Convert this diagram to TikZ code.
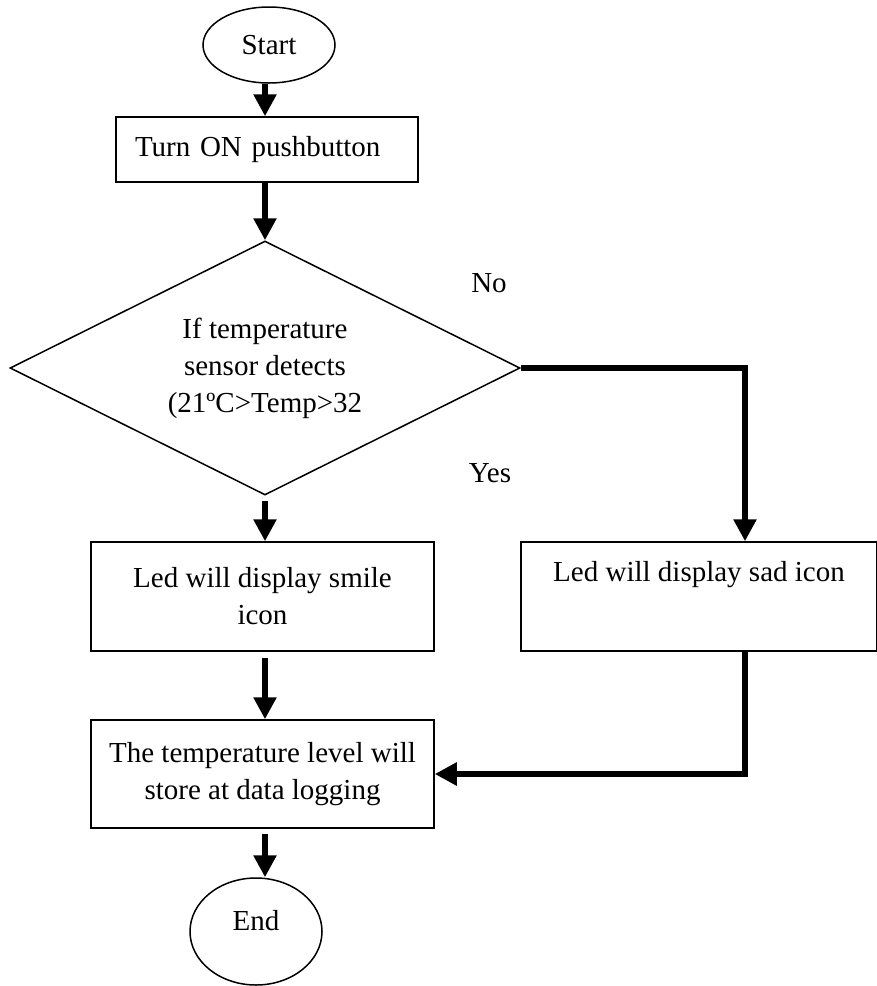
\documentclass[tikz,border=0pt]{standalone}
\usepackage{fontspec}
\setmainfont{Liberation Serif}
\usetikzlibrary{shapes.geometric,arrows.meta}

\begin{document}
\begin{tikzpicture}[x=1pt, y=-1pt,
    every node/.style={font=\fontsize{29}{37}\selectfont},
    terminal/.style={draw, ellipse, line width=1.5pt, inner sep=0pt},
    procbox/.style={draw, rectangle, line width=1.5pt, align=center},
    decision/.style={draw, diamond, aspect=2, line width=1.5pt, inner sep=0pt,
        minimum width=510pt, minimum height=254pt, align=center},
    flow/.style={line width=6pt, -{Triangle[width=22pt,length=22pt]}}] % sizes in px of the page
                \useasboundingbox (0,0) rectangle (877,986);
                \coordinate (nocol) at (745,0); % column of the No branch

                % Nodes
                \node[terminal, minimum width=132pt, minimum height=76pt] (start) at (269,45) {Start};
                \node[procbox, minimum width=302pt, minimum height=65pt, text width=264pt, align=left, inner xsep=19pt] (turnon) at (267,149.5) {Turn ON pushbutton};
                \node[decision] (check) at (265,368) {If temperature\\sensor detects\\(21ºC>Temp>32};
                \node[procbox, minimum width=343pt, minimum height=109pt] (smile) at (262.5,596.5) {Led will display smile\\icon};
                \node[procbox, minimum width=356pt, text height=20pt, text depth=51pt, inner ysep=19pt] (sad) at (699,596.5) {Led will display sad icon};
                \node[procbox, minimum width=343pt, minimum height=108pt] (logging) at (262.5,774) {The temperature level will\\store at data logging};
                \node[terminal, minimum width=132pt, minimum height=107pt, text depth=22pt] (stop) at (256,931.5) {End};

                % Branch labels
                \node (nolbl) at (489,283) {No};
                \node (yeslbl) at (490,473) {Yes};

                % Main flow
                \draw[flow] (start.south -| check.north) -- (turnon.north -| check.north);
                \draw[flow] (turnon.south -| check.north) -- (check.north);
                \draw[flow, shorten <=5pt] (check.south) -- (check.south |- smile.north);
                \draw[flow, shorten <=6pt] (smile.south -| check.south) -- (logging.north -| check.south);
                \draw[flow, shorten <=5pt] (logging.south -| check.south) -- (stop.north -| check.south);

                % No branch
                \draw[flow] (check.east) -| (sad.north -| nocol);
                \draw[flow] (sad.south -| nocol) |- (logging.east);

            \end{tikzpicture}
\end{document}
